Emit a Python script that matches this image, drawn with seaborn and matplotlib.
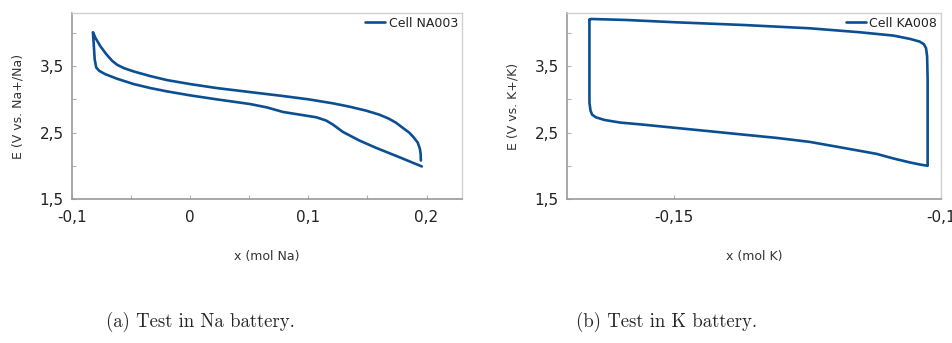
import numpy as np
import pandas as pd
import matplotlib
matplotlib.use("Agg")
import matplotlib.pyplot as plt
import seaborn as sns

sns.set_theme(style="white")
plt.rcParams["font.family"] = ["DejaVu Sans"]

# --- Na cell (NA003): charge branch (right -> left), then discharge branch (left -> right)
na_charge_x = [0.1952, 0.1950, 0.1943, 0.1925, 0.1890, 0.1853, 0.1800, 0.1740, 0.1680,
               0.1600, 0.1489, 0.1348, 0.1208, 0.1003, 0.0786, 0.0505, 0.0225, 0.0,
               -0.0196, -0.0337, -0.0478, -0.0560, -0.0618, -0.0660, -0.0710, -0.0760,
               -0.0800, -0.0823]
na_charge_e = [2.08, 2.18, 2.26, 2.35, 2.43, 2.50, 2.57, 2.65, 2.71,
               2.77, 2.83, 2.89, 2.94, 3.00, 3.05, 3.11, 3.17, 3.23,
               3.29, 3.35, 3.42, 3.47, 3.52, 3.58, 3.68, 3.80,
               3.92, 4.01]
na_dis_x = [-0.0823, -0.0815, -0.0808, -0.0795, -0.0770, -0.0720, -0.0618, -0.0478,
            -0.0337, -0.0196, 0.0, 0.0225, 0.0505, 0.0646, 0.0786, 0.0927, 0.1067,
            0.1152, 0.1208, 0.1292, 0.1432, 0.1573, 0.1769, 0.1960]
na_dis_e = [4.01, 3.80, 3.60, 3.48, 3.43, 3.38, 3.31, 3.23,
            3.17, 3.12, 3.06, 3.00, 2.93, 2.88, 2.81, 2.77, 2.73,
            2.68, 2.62, 2.51, 2.38, 2.27, 2.13, 1.99]

# --- K cell (KA008): top plateau, right drop, bottom plateau, left rise
k_x = [-0.1658, -0.1655, -0.1589, -0.1496, -0.1371, -0.1246, -0.1152, -0.1089, -0.1058,
       -0.1040, -0.1032, -0.1028, -0.1026, -0.1025, -0.1025, -0.1025,
       -0.1040, -0.1058, -0.1089, -0.1121, -0.1183, -0.1246, -0.1308, -0.1371, -0.1433,
       -0.1496, -0.1558, -0.1600, -0.1630, -0.1646, -0.1653, -0.1656, -0.1658, -0.1658,
       -0.1658]
k_e = [4.20, 4.21, 4.195, 4.16, 4.12, 4.07, 4.01, 3.96, 3.91,
       3.87, 3.83, 3.77, 3.65, 3.30, 2.60, 2.00,
       2.02, 2.05, 2.11, 2.18, 2.27, 2.36, 2.42, 2.47, 2.52,
       2.57, 2.62, 2.65, 2.69, 2.73, 2.77, 2.83, 2.95, 3.40,
       4.20]

na_xticks = [-0.1, 0.0, 0.1, 0.2]
na_xticklabels = ["-0,1", "0", "0,1", "0,2"]
na_xminor = [-0.05, 0.05, 0.15]
k_xticks = [-0.15, -0.1]
k_xticklabels = ["-0,15", "-0,1"]
e_ticks = [1.5, 2.5, 3.5]
e_ticklabels = ["1,5", "2,5", "3,5"]
e_minor = [2.0, 3.0, 4.0]

LINE = "#0b4f92"

na_df = pd.DataFrame({"x": na_charge_x + na_dis_x, "E": na_charge_e + na_dis_e,
                      "cell": "Cell NA003"})
na_df["order"] = np.arange(len(na_df))
k_df = pd.DataFrame({"x": k_x, "E": k_e, "cell": "Cell KA008"})
k_df["order"] = np.arange(len(k_df))

fig = plt.figure(figsize=(9.52, 3.43), dpi=100)
ax1 = fig.add_axes([72 / 952, 1 - 199 / 343, 390 / 952, 186 / 343])
ax2 = fig.add_axes([567 / 952, 1 - 199 / 343, 374 / 952, 186 / 343])


def style(ax, xlim, xt, xtl, xminor, xlabel, ylabel):
    ax.set_xlim(*xlim)
    ax.set_ylim(1.5, 4.3)
    ax.set_xticks(xt)
    ax.set_xticklabels(xtl)
    ax.set_xticks(xminor, minor=True)
    ax.set_yticks(e_ticks)
    ax.set_yticklabels(e_ticklabels)
    ax.set_yticks(e_minor, minor=True)
    ax.tick_params(which="both", direction="in", length=3, width=0.8, color="#b0b0b0",
                   labelsize=11, labelcolor="#222222")
    ax.tick_params(axis="x", which="both", pad=8, bottom=True)
    ax.tick_params(axis="y", which="both", pad=6, left=True)
    for s in ("left", "bottom"):
        ax.spines[s].set_color("#9a9a9a")
        ax.spines[s].set_linewidth(1.2)
    for s in ("top", "right"):
        ax.spines[s].set_color("#d0d0d0")
        ax.spines[s].set_linewidth(1.0)
    ax.set_xlabel(xlabel, fontsize=9, color="#333333", labelpad=18)
    ax.set_ylabel(ylabel, fontsize=9, color="#333333", labelpad=11)
    leg = ax.legend(loc="upper right", frameon=False, fontsize=9, handlelength=1.6,
                    handletextpad=0.3, borderaxespad=0.1, borderpad=0.2)
    for t in leg.get_texts():
        t.set_color("#222222")


sns.lineplot(data=na_df, x="x", y="E", hue="cell", palette=[LINE], sort=False,
             estimator=None, linewidth=1.9, ax=ax1)
sns.lineplot(data=k_df, x="x", y="E", hue="cell", palette=[LINE], sort=False,
             estimator=None, linewidth=1.9, ax=ax2)

style(ax1, (-0.1, 0.23), na_xticks, na_xticklabels, na_xminor,
      "x (mol Na)", "E (V vs. Na+/Na)")
style(ax2, (-0.17, -0.1), k_xticks, k_xticklabels, [], "x (mol K)", "E (V vs. K+/K)")

fig.text(200 / 952, 1 - 322 / 343, "(a) Test in Na battery.", family="cmr10",
         fontsize=13.5, ha="center", va="center")
fig.text(666 / 952, 1 - 322 / 343, "(b) Test in K battery.", family="cmr10",
         fontsize=13.5, ha="center", va="center")

fig.savefig("out.png", dpi=100)
